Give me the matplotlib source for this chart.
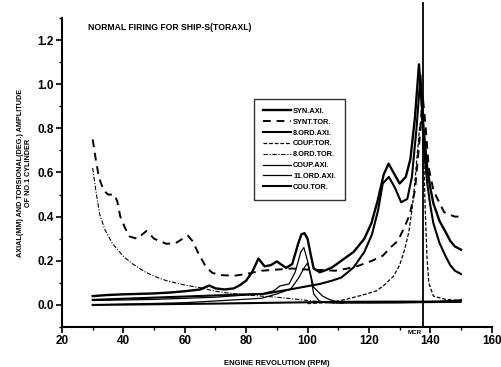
import matplotlib
matplotlib.use('Agg')
import matplotlib.pyplot as plt

plt.rcParams['font.family'] = ['Liberation Sans', 'DejaVu Sans']
plt.rcParams['font.weight'] = 'bold'

# ---- data ----
syn_axi_x = [30, 35, 40, 45, 50, 55, 60, 65, 68, 70, 73, 76, 78, 80, 82, 84, 86, 88, 90, 93, 95,
             97, 98, 99, 100, 101, 102, 104, 106, 108, 110, 112, 115, 118.5, 120.8, 122.8, 124.8,
             126.4, 128, 130, 132, 133.5, 135, 136.3, 137.8, 139, 140, 141, 143, 145, 146.5, 148, 150]
syn_axi_y = [0.040, 0.045, 0.048, 0.050, 0.052, 0.056, 0.062, 0.070, 0.088, 0.075, 0.070, 0.075,
             0.090, 0.110, 0.150, 0.210, 0.175, 0.180, 0.197, 0.168, 0.185, 0.280, 0.320, 0.325,
             0.300, 0.230, 0.165, 0.148, 0.158, 0.170, 0.190, 0.210, 0.240, 0.300, 0.370, 0.470,
             0.590, 0.640, 0.600, 0.550, 0.580, 0.660, 0.850, 1.090, 0.800, 0.620, 0.530, 0.460,
             0.380, 0.330, 0.290, 0.265, 0.250]

synt_tor_x = [30, 31, 32, 33.5, 35, 37, 38, 39, 40.5, 42, 44.5, 47.5, 50, 54, 57, 61, 62.5, 64.5,
              67, 69, 72, 76, 80, 85, 90, 95, 100, 105, 109, 113, 116.5, 121, 124.5, 127, 129.4,
              131.5, 133.3, 135, 136.5, 137.5, 138.5, 139.5, 141, 142, 144.5, 146, 148, 150]
synt_tor_y = [0.75, 0.66, 0.58, 0.52, 0.50, 0.50, 0.47, 0.40, 0.35, 0.31, 0.30, 0.335, 0.30, 0.277,
              0.28, 0.314, 0.29, 0.232, 0.17, 0.145, 0.135, 0.132, 0.14, 0.155, 0.16, 0.165, 0.16,
              0.158, 0.155, 0.165, 0.177, 0.20, 0.223, 0.26, 0.29, 0.35, 0.41, 0.52, 0.75, 0.95,
              0.80, 0.62, 0.52, 0.49, 0.42, 0.41, 0.40, 0.40]

ord8_axi_x = [30, 40, 50, 60, 70, 80, 86, 90, 95, 100, 104, 108, 111, 115, 118.5, 121, 123,
              124.5, 126.5, 128.5, 130.5, 132.5, 134, 135.5, 136.8, 137.8, 139, 140, 141, 143, 145,
              146.5, 148, 150]
ord8_axi_y = [0.023, 0.028, 0.033, 0.038, 0.043, 0.048, 0.050, 0.060, 0.072, 0.085, 0.095, 0.110,
              0.124, 0.170, 0.240, 0.320, 0.430, 0.550, 0.580, 0.530, 0.465, 0.480, 0.580, 0.800,
              1.040, 0.720, 0.550, 0.450, 0.370, 0.280, 0.220, 0.180, 0.155, 0.140]

coup_tor_x = [100, 105.5, 110, 113, 117.5, 122.5, 125, 128, 130, 131.6, 133, 134.2, 135, 135.8,
              136.5, 137.2, 137.8, 138.3, 138.9, 139.5, 141, 145, 150]
coup_tor_y = [0.006, 0.010, 0.018, 0.027, 0.043, 0.064, 0.090, 0.130, 0.180, 0.250, 0.330, 0.450,
              0.560, 0.690, 0.800, 0.850, 0.700, 0.450, 0.220, 0.100, 0.040, 0.025, 0.020]

ord8_tor_x = [30, 31, 32.3, 34, 36.5, 40, 43, 47, 50, 54, 60, 65, 70, 73, 80, 85, 90, 95, 100,
              104, 108, 112]
ord8_tor_y = [0.62, 0.52, 0.41, 0.34, 0.277, 0.22, 0.186, 0.15, 0.13, 0.11, 0.09, 0.078, 0.062,
              0.056, 0.045, 0.040, 0.035, 0.028, 0.020, 0.015, 0.010, 0.008]

coup_axi_x = [30, 50, 70, 85, 89, 91, 94, 96, 97.8, 98.8, 100, 101, 102, 104.8, 107, 110, 120,
              130, 140, 150]
coup_axi_y = [0.020, 0.025, 0.035, 0.050, 0.064, 0.086, 0.095, 0.150, 0.240, 0.260, 0.200, 0.140,
              0.080, 0.041, 0.025, 0.012, 0.010, 0.010, 0.012, 0.015]

ord11_axi_x = [30, 60, 85, 90, 94.5, 97, 99, 100, 101, 102, 103.8, 106, 110, 150]
ord11_axi_y = [0.0, 0.010, 0.030, 0.050, 0.072, 0.120, 0.170, 0.190, 0.130, 0.050, 0.018, 0.010,
               0.008, 0.012]

cou_tor_x = [30, 50, 70, 90, 110, 130, 140, 148, 150]
cou_tor_y = [0.0, 0.003, 0.006, 0.010, 0.014, 0.015, 0.015, 0.018, 0.022]

mcr_rpm = 137.6

fig = plt.figure(figsize=(5.02, 3.67), dpi=100)
ax = fig.add_axes([0.1235, 0.109, 0.856, 0.842])

ax.plot(syn_axi_x, syn_axi_y, color='black', lw=1.7, label='SYN.AXI.')
ax.plot(synt_tor_x, synt_tor_y, color='black', lw=1.4, ls=(0, (4, 3)), label='SYNT.TOR.')
ax.plot(ord8_axi_x, ord8_axi_y, color='black', lw=1.5, label='8.ORD.AXI.')
ax.plot(coup_tor_x, coup_tor_y, color='black', lw=0.9, ls=(0, (3, 1.5)), label='COUP.TOR.')
ax.plot(ord8_tor_x, ord8_tor_y, color='black', lw=0.8, ls=(0, (4, 1.5, 1, 1.5)), label='8.ORD.TOR.')
ax.plot(coup_axi_x, coup_axi_y, color='black', lw=0.9, label='COUP.AXI.')
ax.plot(ord11_axi_x, ord11_axi_y, color='black', lw=0.9, label='11.ORD.AXI.')
ax.plot(cou_tor_x, cou_tor_y, color='black', lw=1.5, label='COU.TOR.')

ax.axvline(mcr_rpm, ymin=0, ymax=1.05, color='black', lw=1.3, clip_on=False)
ax.text(mcr_rpm - 0.3, -0.112, 'MCR', ha='right', va='top', fontsize=4.5, fontweight='bold')

ax.set_xlim(20, 160)
ax.set_ylim(-0.1, 1.3)
ax.set_xticks([20, 40, 60, 80, 100, 120, 140, 160])
ax.set_xticks(range(30, 160, 20), minor=True)
ax.set_yticks([0.0, 0.2, 0.4, 0.6, 0.8, 1.0, 1.2])
ax.set_yticks([-0.1, 0.1, 0.3, 0.5, 0.7, 0.9, 1.1, 1.3], minor=True)
ax.set_yticklabels(['0.0', '0.2', '0.4', '0.6', '0.8', '1.0', '1.2'])
ax.tick_params(which='major', direction='out', length=4, width=1.2, labelsize=8.5, pad=2)
ax.tick_params(which='minor', direction='out', length=2.5, width=1.0)
for lab in ax.get_xticklabels() + ax.get_yticklabels():
    lab.set_fontweight('bold')

ax.spines['top'].set_visible(False)
ax.spines['right'].set_visible(False)
ax.spines['left'].set_linewidth(1.5)
ax.spines['bottom'].set_linewidth(1.5)

ax.set_xlabel('ENGINE REVOLUTION (RPM)', fontsize=5.5, fontweight='bold', labelpad=9)
ax.set_ylabel('AXIAL(MM) AND TORSIONAL(DEG.) AMPLITUDE\nOF NO.1 CYLINDER', fontsize=5.2,
              fontweight='bold', labelpad=4, linespacing=1.1)
ax.text(0.06, 0.985, 'NORMAL FIRING FOR SHIP-S(TORAXL)', transform=ax.transAxes,
        fontsize=6.2, fontweight='bold', va='top', ha='left')

leg = ax.legend(loc='upper left', bbox_to_anchor=(0.447, 0.738), fontsize=5.3, frameon=True,
                fancybox=False, edgecolor='black', handlelength=3.8, handletextpad=0.3,
                labelspacing=0.5, borderpad=1.2, borderaxespad=0)
leg.get_frame().set_linewidth(1.0)
for t in leg.get_texts():
    t.set_fontweight('bold')

fig.savefig('out.png', dpi=100)
